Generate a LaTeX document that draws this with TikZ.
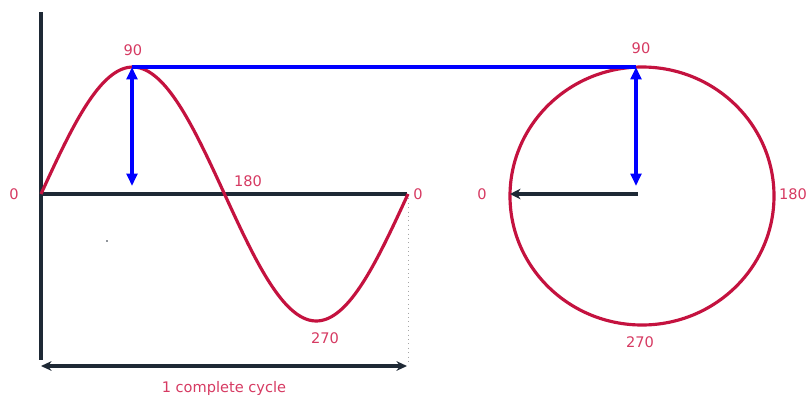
\documentclass[tikz,border=0pt]{standalone}
\usepackage{fontspec}
\setmainfont{DejaVu Sans}
\usetikzlibrary{arrows.meta}
\definecolor{wave}{HTML}{C4123F}
\definecolor{lbl}{HTML}{D63A62}
\definecolor{axis}{HTML}{1E2935}
\definecolor{vec}{HTML}{0000FF}
\tikzset{
  lab/.style={text=lbl, font=\fontsize{8.3pt}{10pt}\selectfont, inner sep=0pt},
  axisline/.style={draw=axis, line width=2.1pt},
  wavestyle/.style={draw=wave, line width=1.8pt},
  vecline/.style={draw=vec, line width=1.9pt},
  vecarrow/.style={vecline, {Triangle[length=7pt,width=6pt]}-{Triangle[length=7pt,width=6pt]}},
  blackarrow/.style={draw=axis, line width=2pt},
}
\begin{document}
\begin{tikzpicture}[x=0.02cm, y=-0.02cm]
\useasboundingbox (0,0) rectangle (808,399);
% coordinates
\coordinate (ytop) at (41,12);
\coordinate (ybot) at (41,360);
\coordinate (o) at (41,194);
\coordinate (xend) at (407,194);
\coordinate (peak) at (132,67);
\coordinate (peakdn) at (132,186);
\coordinate (cend) at (408,194);
\coordinate (cendb) at (408,362);
\coordinate (dl) at (41,366);
\coordinate (dr) at (407,366);
\coordinate (ctop) at (636,67);
\coordinate (cdn) at (636,186);
\coordinate (cc) at (638,194);
\coordinate (cleft) at (510,194);
% axes
\draw[axisline] (ytop) -- (ybot);
\draw[axisline] (o) -- (xend);
\draw[gray!70, line width=0.5pt, dotted] (cend) -- (cendb);
% sine
\draw[wavestyle] plot[domain=0:360, samples=120, smooth] ({41+1.019444*\x}, {194-127*sin(\x)});
% circle
\draw[wavestyle] (642,196) ellipse [x radius=132, y radius=129];
% blue
\draw[vecline] (peak) -- (ctop);
\draw[vecarrow] (peakdn) -- (peak);
\draw[vecarrow] (cdn) -- (ctop);
% black radius arrow
\draw[blackarrow, -{Stealth[length=6pt,width=6pt]}] (cc) -- (cleft);
% dimension
\draw[blackarrow, {Stealth[length=6pt,width=5.5pt]}-{Stealth[length=6pt,width=5.5pt]}] (dl) -- (dr);
% dot
\fill[axis] (107,241) circle (0.9);
% labels
\node[lab] (l0a) at (14,194) {0};
\node[lab] (l90a) at (133,50) {90};
\node[lab] (l180a) at (248,181) {180};
\node[lab] (l0b) at (418,194) {0};
\node[lab] (l270a) at (325,338) {270};
\node[lab] (l0c) at (482,194) {0};
\node[lab] (l90b) at (641,48) {90};
\node[lab] (l180b) at (793,194) {180};
\node[lab] (l270b) at (640,342) {270};
\node[lab] (cyc) at (224,388) {1 complete cycle};
\end{tikzpicture}
\end{document}
